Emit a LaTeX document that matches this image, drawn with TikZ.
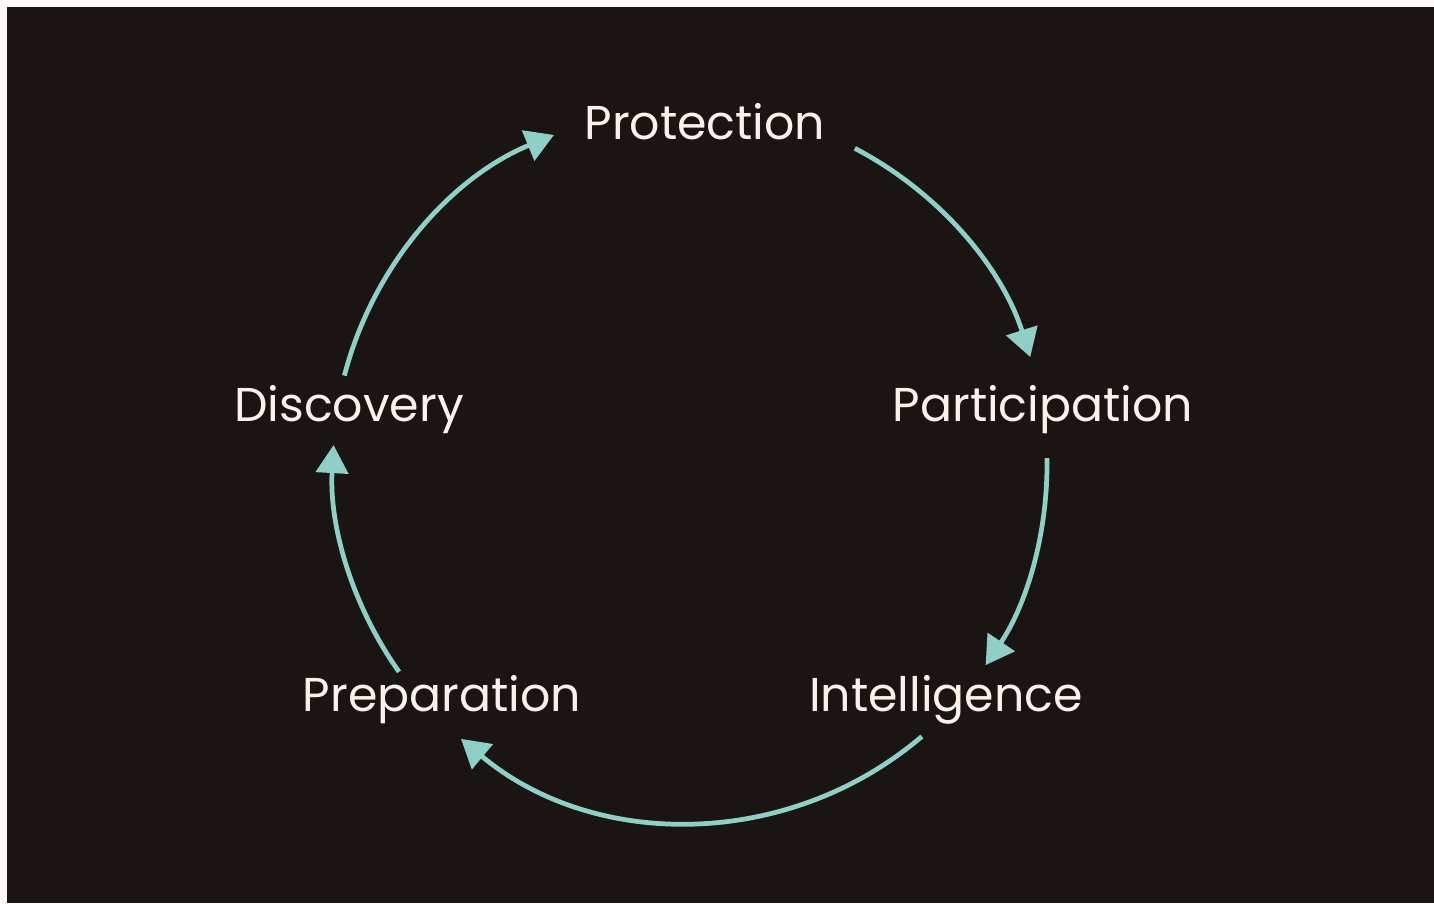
\documentclass[tikz,border=0pt]{standalone}
\usepackage{fontspec}
\setmainfont{Poppins}
\usetikzlibrary{arrows.meta, calc}
\definecolor{CyInk}{RGB}{26,21,18}
\definecolor{CyPaper}{RGB}{255,249,245}
\definecolor{CyTeal}{RGB}{143,207,199}
\definecolor{CyCream}{RGB}{248,242,234}

\begin{document}
\begin{tikzpicture}[
    stage/.style={text=CyCream, font=\fontsize{27}{32}\selectfont,
                  inner sep=0pt, anchor=base},
    flow/.style={draw=CyTeal, line width=2.7pt,
                 -{Triangle[length=0.56cm, width=0.64cm]}}
  ]
  % canvas
  \fill[CyPaper] (0,0) rectangle (28.68,18.06);
  \fill[CyInk] (0.14,0) rectangle (28.68,17.92);
  \coordinate (hub) at (13.8,8.76);
  % stages round the cycle
  \node[stage] (prot) at (14.1,15.26) {Protection};
  \node[stage] (part) at (20.86,9.62) {Participation};
  \node[stage] (intl) at (18.92,3.82) {Intelligence};
  \node[stage] (prep) at (8.84,3.82) {Preparation};
  \node[stage] (disc) at (6.98,9.62) {Discovery};
  % arcs between stages
  \foreach \s/\e in {165.5/112.4, 62.5/17.6, 1.1/-34.1, -49.5/-129.9, 215.4/176.8} {
    \draw[flow] ($(hub)+(\s:7.14)$) arc[start angle=\s, end angle=\e, radius=7.14cm];
  }
\end{tikzpicture}
\end{document}
